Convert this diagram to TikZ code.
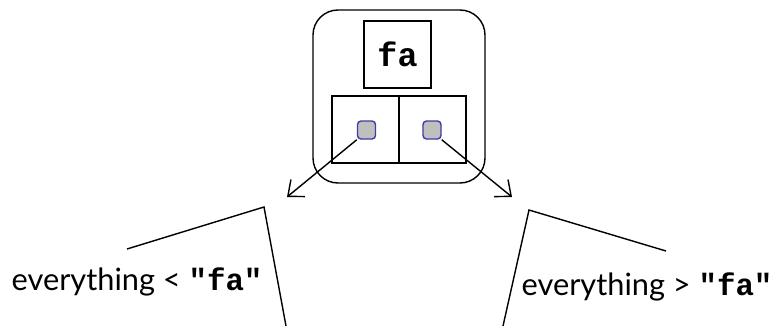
\documentclass[tikz,border=0pt]{standalone}
\usepackage{fontspec}
\setmainfont{Lato}
\setmonofont{Liberation Mono}
\usepackage{tikz}
\usetikzlibrary{arrows.meta}
\definecolor{ptrblue}{RGB}{60,60,170}

\begin{document}
\begin{tikzpicture}[line width=0.8pt, >={Straight Barb[length=2.6mm, width=4.4mm]},
  cell/.style={draw, minimum width=1.34cm, minimum height=1.34cm, inner sep=0pt},
  ptr/.style={draw=ptrblue, fill=gray!50, rounded corners=2pt, minimum size=0.36cm, inner sep=0pt},
  lbl/.style={font=\fontsize{17.5}{21}\selectfont, inner sep=0pt}]
\useasboundingbox (0,0) rectangle (15.56,-6.52);
\node [draw, rounded corners=0.5cm, minimum width=3.44cm, minimum height=3.46cm] (tnode) at (7.98,-1.93) {};
\node [cell, font=\fontsize{19}{21}\selectfont\ttfamily\bfseries] (key) at (7.95,-1.09) {fa};
\node [cell] (lcell) at (7.31,-2.59) {};
\node [cell] (rcell) at (8.65,-2.59) {};
\node [ptr] (lptr) at (7.33,-2.6) {};
\node [ptr] (rptr) at (8.64,-2.6) {};
\coordinate (lend) at (5.74,-3.94);
\coordinate (rend) at (10.24,-3.94);
\path [->] (lptr.south west) edge (lend);
\path [->] (rptr.south east) edge (rend);
\draw (2.54,-4.98) -- (5.28,-4.14) -- (5.72,-6.52);
\draw (13.32,-5.02) -- (10.58,-4.2) -- (10.06,-6.52);
\node [lbl, anchor=base west] (less) at (0.22,-5.8) {everything < \texttt{\textbf{"fa"}}};
\node [lbl, anchor=base west] (more) at (10.42,-5.9) {everything > \texttt{\textbf{"fa"}}};
\end{tikzpicture}
\end{document}
